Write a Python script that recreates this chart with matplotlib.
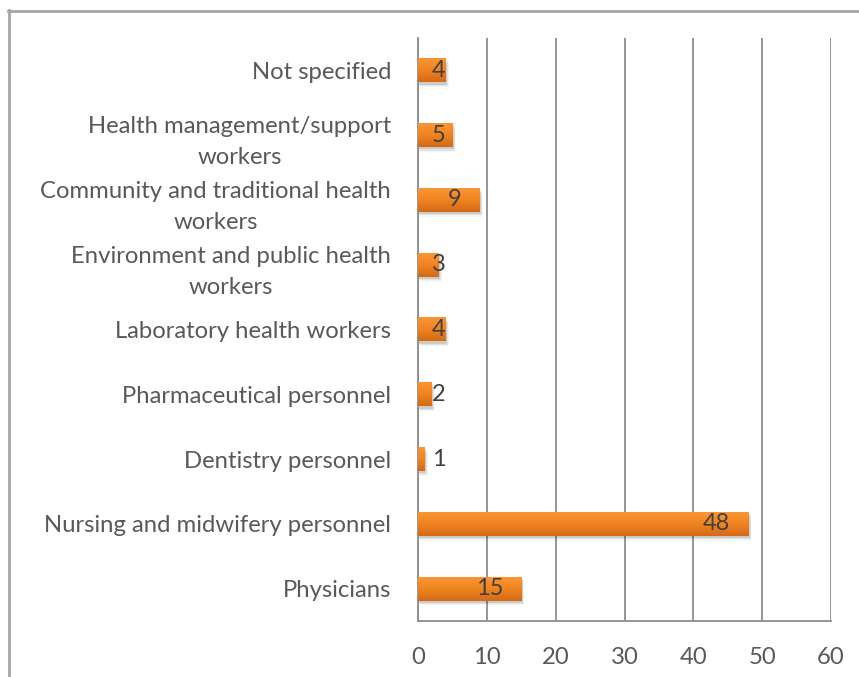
import matplotlib
matplotlib.use("Agg")
import matplotlib.pyplot as plt
import numpy as np
from matplotlib.lines import Line2D
from matplotlib.patches import Rectangle
from matplotlib.colors import LinearSegmentedColormap

categories = [
    "Physicians",
    "Nursing and midwifery personnel",
    "Dentistry personnel",
    "Pharmaceutical personnel",
    "Laboratory health workers",
    "Environment and public health\nworkers",
    "Community and traditional health\nworkers",
    "Health management/support\nworkers",
    "Not specified",
]
values = [15, 48, 1, 2, 4, 3, 9, 5, 4]
xticks = [0, 10, 20, 30, 40, 50, 60]

plt.rcParams['font.family'] = ['Lato', 'DejaVu Sans']

W, H = 859, 677
fig = plt.figure(figsize=(W / 100, H / 100), dpi=100)
ax = fig.add_axes([418 / W, 1 - 621 / H, (831 - 418) / W, (621 - 38) / H])

y = np.arange(len(categories))
bars = ax.barh(y, values, height=0.37, color='none', edgecolor='none', zorder=3)

ax.set_xlim(0, 60)
ax.set_ylim(-0.5, len(categories) - 0.5)

grad = np.linspace(0, 1, 64).reshape(-1, 1)
cmap = LinearSegmentedColormap.from_list("og", ["#D36A17", "#F0841F", "#FA9534"])
for b in bars:
    x0, y0 = b.get_x(), b.get_y()
    w, h = b.get_width(), b.get_height()
    for k, a in enumerate([0.10, 0.07, 0.04]):
        dx = 0.25 + 0.15 * k
        dy = 0.035 + 0.02 * k
        ax.add_patch(Rectangle((x0 + dx * 0.5, y0 - dy), w + dx * 0.3, h,
                               facecolor='#000000', alpha=a, edgecolor='none', zorder=2))
    ax.imshow(grad, extent=(x0, x0 + w, y0, y0 + h), origin='lower',
              cmap=cmap, aspect='auto', zorder=3, interpolation='bilinear')
ax.set_xlim(0, 60)
ax.set_ylim(-0.5, len(categories) - 0.5)

units_per_px = 60 / (831 - 418)
pad_end = 18 * units_per_px
min_left = 14 * units_per_px
digit_w = 13 * units_per_px
for yi, v in zip(y, values):
    s = str(v)
    right = v - pad_end
    if right - digit_w * len(s) >= min_left:
        ax.text(right, yi, s, ha='right', va='center', fontsize=17, color='#404040', zorder=5)
    else:
        ax.text(min_left, yi, s, ha='left', va='center', fontsize=17, color='#404040', zorder=5)

ax.set_xticks(xticks)
ax.set_xticklabels([str(t) for t in xticks])
ax.set_yticks(y)
ax.set_yticklabels(categories, multialignment='center', linespacing=1.6)
ax.tick_params(axis='both', length=0, labelsize=17.2, colors='#595959')
ax.tick_params(axis='y', pad=19.4)
ax.tick_params(axis='x', pad=19)
ax.xaxis.grid(True, color='#8C8C8C', linewidth=1.3, zorder=0)
ax.set_axisbelow(True)
for sp in ['top', 'right']:
    ax.spines[sp].set_visible(False)
for sp in ['left', 'bottom']:
    ax.spines[sp].set_color('#8C8C8C')
    ax.spines[sp].set_linewidth(1.3)

fig.add_artist(Line2D([8.5 / W, 8.5 / W], [0, 1 - 10 / H], color='#A6A6A6', linewidth=2.0,
                      transform=fig.transFigure))
fig.add_artist(Line2D([8 / W, 1], [1 - 10.5 / H, 1 - 10.5 / H], color='#A6A6A6', linewidth=2.0,
                      transform=fig.transFigure))

fig.savefig("out.png", dpi=100)
